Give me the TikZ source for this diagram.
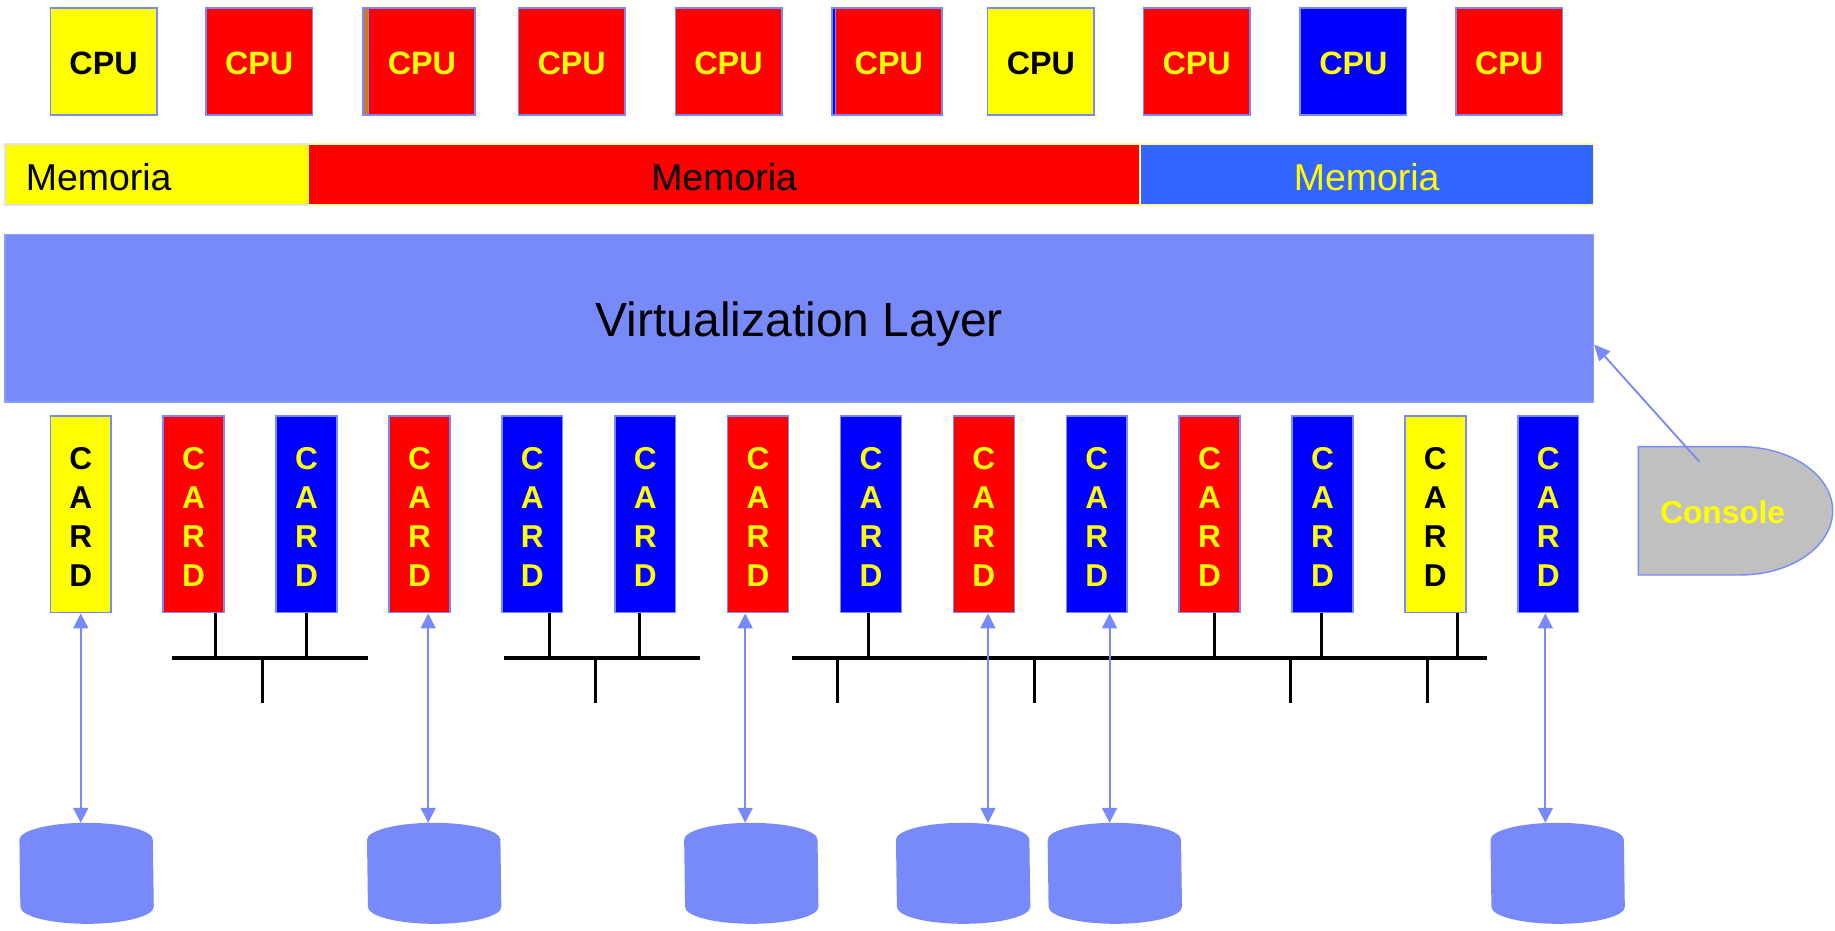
\documentclass[tikz,border=0pt]{standalone}
\usepackage{fontspec}
\setmainfont{Liberation Sans}
\usetikzlibrary{arrows.meta,calc}

\definecolor{peri}{RGB}{120,138,250}
\definecolor{memblue}{RGB}{51,102,255}
\definecolor{consolegray}{RGB}{192,192,192}
\definecolor{cpuorange}{RGB}{204,122,30}
\definecolor{ylw}{RGB}{255,255,0}
\definecolor{rd}{RGB}{255,0,0}
\definecolor{bl}{RGB}{0,0,255}
\definecolor{paleylw}{RGB}{255,250,160}
\definecolor{palegray}{RGB}{225,228,235}

\begin{document}
\begin{tikzpicture}[x=0.5pt,y=-0.5pt,
  yel/.style={fill=ylw,text=black},
  redc/.style={fill=rd,text=ylw},
  bluec/.style={fill=bl,text=ylw},
  orgc/.style={fill=cpuorange},
  cpubox/.style={draw=peri,line width=0.65pt,minimum width=45.5pt,minimum height=45.75pt,
    inner sep=0pt,font=\bfseries\fontsize{13.8}{16}\selectfont},
  cpulabel/.style={inner sep=0pt,font=\bfseries\fontsize{13.8}{16}\selectfont},
  cardbox/.style={draw=peri,line width=0.65pt,minimum width=26pt,minimum height=84pt,
    inner sep=0pt},
  cardlabel/.style={inner sep=0pt,align=center,font=\bfseries\fontsize{13.5}{16.65}\selectfont},
  memseg/.style={line width=0.6pt,minimum height=26.1pt,inner sep=0pt},
  memtext/.style={font=\fontsize{16}{19}\selectfont,inner sep=0pt},
  diskbox/.style={minimum width=57pt,minimum height=42.75pt,inner sep=0pt},
  bus/.style={line width=1.6pt,black},
  stub/.style={line width=1.3pt,black},
  link/.style={peri,line width=0.8pt,{Triangle[length=6.4pt,width=6.4pt]}-{Triangle[length=6.4pt,width=6.4pt]}},
  ctl/.style={peri,line width=0.8pt,-{Triangle[length=6.8pt,width=6.2pt]}}
]
\useasboundingbox (0,0) rectangle (1568,795);

% ---- processors ----
\node[cpubox,orgc] (cpu3b) at (355.5,52.5) {};
\node[cpubox,bluec] (cpu6b) at (756.5,52.5) {};
\foreach \i/\x/\st in {1/88.5/yel,2/221.5/redc,3/360.5/redc,4/488.5/redc,5/622.5/redc,
                       6/759.5/redc,7/889.5/yel,8/1022.5/redc,9/1156.5/bluec,10/1289.5/redc}{
  \node[cpubox,\st] (cpu\i) at (\x,52.5) {};
  \node[cpulabel,\st,fill=none] (cpu\i t) at ($(cpu\i)+(0,2)$) {CPU};
}

% ---- memory bar ----
\node[memseg,fill=ylw,draw=palegray,minimum width=129.6pt] (mem1) at (133.9,149.1) {};
\node[memseg,fill=rd,draw=paleylw,minimum width=355.25pt] (mem2) at (618.75,149.1) {};
\node[memseg,fill=memblue,draw=paleylw,minimum width=193.85pt] (mem3) at (1167.85,149.1) {};
\node[memtext,anchor=west,text=black] (mem1t) at ($(mem1.west)+(18,2)$) {Memoria};
\node[memtext,text=black] (mem2t) at ($(mem2.center)+(0,2)$) {Memoria};
\node[memtext,text=ylw] (mem3t) at ($(mem3.center)+(0,2)$) {Memoria};

% ---- virtualization layer ----
\node[fill=peri,draw=peri!85!white,line width=0.5pt,minimum width=678.7pt,minimum height=71.6pt,
      inner sep=0pt] (layer) at (683,271.9) {};
\node[inner sep=0pt,font=\fontsize{20.5}{24}\selectfont] (layert) at ($(layer)+(0,5)$) {Virtualization Layer};

% ---- I/O cards ----
\foreach \i/\st in {1/yel,2/redc,3/bluec,4/redc,5/bluec,6/bluec,7/redc,
                    8/bluec,9/redc,10/bluec,11/redc,12/bluec,13/yel,14/bluec}{
  \node[cardbox,\st] (c\i) at ({69+96.46*(\i-1)},439.5) {};
  \node[cardlabel,\st,fill=none] (c\i t) at ($(c\i)+(0,2.5)$) {C\\A\\R\\D};
}

% ---- network buses ----
\coordinate (b1l) at (147,562.5);  \coordinate (b1r) at (314.5,562.5);
\coordinate (b2l) at (431,562.5);  \coordinate (b2r) at (598,562.5);
\coordinate (b3l) at (677,562.5);  \coordinate (b3r) at (1271,562.5);
\draw[bus] (b1l) -- (b1r);
\draw[bus] (b2l) -- (b2r);
\draw[bus] (b3l) -- (b3r);

\foreach \c/\dx/\b in {2/19/b1l,3/0/b1l,5/15/b2l,6/-5/b2l,8/-2/b3l,11/4/b3l,12/-1/b3l,13/19/b3l}{
  \coordinate (s\c) at ($(c\c.south)+(\dx,0)$);
  \draw[stub] (s\c) -- (s\c |- \b);
}
\foreach \n/\x/\b in {1/224/b1l,2/509/b2l,3/715.5/b3l,4/883.6/b3l,5/1103/b3l,6/1219.5/b3l}{
  \coordinate (drop\n) at (\x,601);
  \draw[stub] (drop\n |- \b) -- (drop\n);
}

% ---- disks ----
\foreach \i/\x in {1/74,2/371,3/642,4/823,5/952.6,6/1331}{
  \node[diskbox] (d\i) at (\x,746.25) {};
  \fill[peri] ($(d\i.north west)+(0,14.5)$)
      arc[start angle=180,end angle=0,x radius=28.5pt,y radius=7.25pt]
      -- ($(d\i.south east)+(0,-14.5)$)
      arc[start angle=0,end angle=-180,x radius=28.5pt,y radius=7.25pt]
      -- cycle;
}

% ---- card to disk links ----
\foreach \c/\dx/\d in {1/0/1,4/7.5/2,7/-11/3,9/3.5/4,10/11/5,14/-2.5/6}{
  \coordinate (a\c) at ($(c\c.south)+(\dx,0)$);
  \draw[link] (a\c) -- (a\c |- d\d.north);
}

% ---- console ----
\draw[fill=consolegray,draw=peri,line width=0.6pt]
  (1400,381.7) -- (1487,381.7)
  arc[start angle=90,end angle=-90,x radius=39.5pt,y radius=27.4pt]
  -- (1400,491.3) -- cycle;
\node[font=\bfseries\fontsize{13.5}{16}\selectfont,text=ylw,inner sep=0pt] (con) at (1472,438) {Console};
\coordinate (conlink) at ($(con)+(-20,-43.5)$);
\draw[ctl] (conlink) -- ($(layer.south east)+(0,-49.6)$);

\end{tikzpicture}
\end{document}
